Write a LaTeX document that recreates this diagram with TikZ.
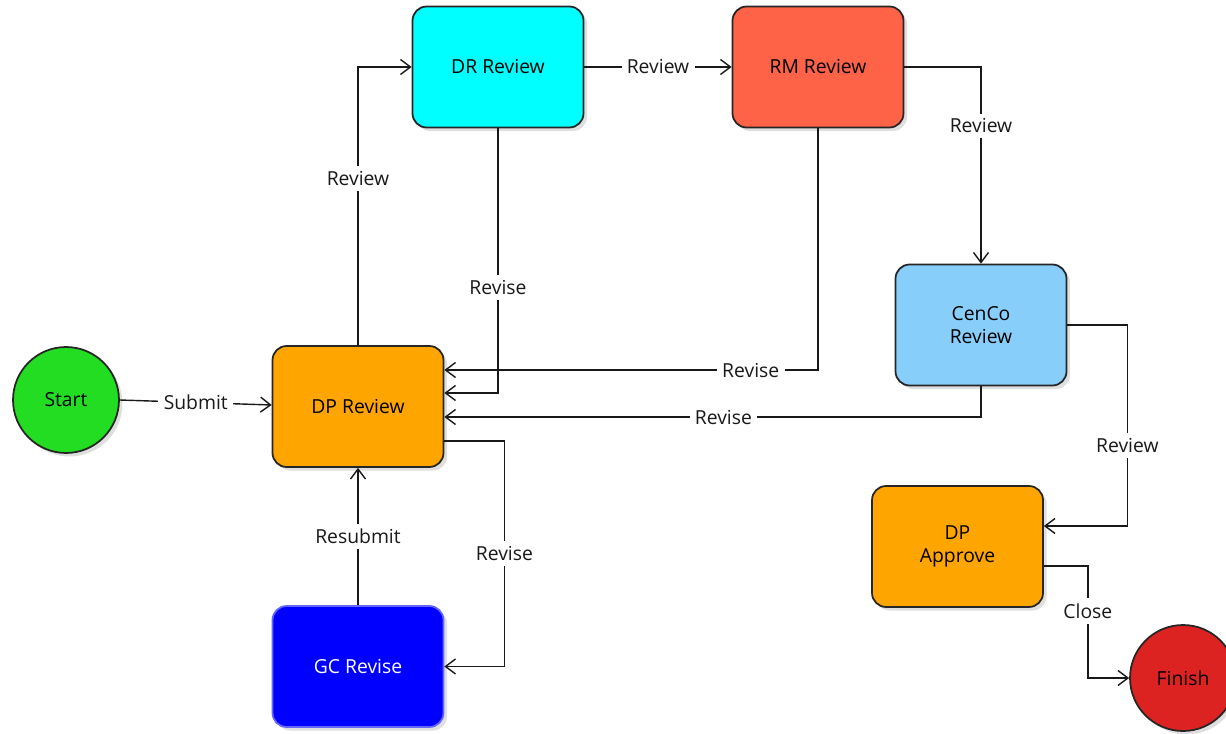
\documentclass[tikz,border=0pt]{standalone}
\usepackage{fontspec}
\setmainfont{Open Sans}
\usepackage{xcolor}
\usetikzlibrary{arrows.meta,calc,shadows}

\definecolor{startgreen}{HTML}{22DD22}
\definecolor{dporange}{HTML}{FFA500}
\definecolor{drcyan}{HTML}{00FFFF}
\definecolor{rmtomato}{HTML}{FF6347}
\definecolor{cencoblue}{HTML}{87CEFA}
\definecolor{gcblue}{HTML}{0000FF}
\definecolor{finishred}{HTML}{DD2222}

\begin{document}
\begin{tikzpicture}[x=0.02cm, y=-0.02cm,
        box/.style={draw=black!85, line width=1pt, rounded corners=8pt, minimum width=3.42cm, minimum height=2.42cm, align=center, font=\fontsize{11}{13}\selectfont, drop shadow={opacity=0.25, shadow xshift=2pt, shadow yshift=-2pt}},
        circ/.style={circle, draw=black!85, line width=1pt, minimum size=2.12cm, font=\fontsize{11}{13}\selectfont, drop shadow={opacity=0.25, shadow xshift=2pt, shadow yshift=-2pt}},
        arr/.style={-{Straight Barb[length=2mm, width=3mm]}, line width=0.8pt, black!90},
        lbl/.style={fill=white, inner sep=3pt, font=\fontsize{11}{13}\selectfont}]
        \useasboundingbox (0,0) rectangle (1226,733);

        % nodes
        \node[circ, fill=startgreen] (start) at (66,400) {Start};
        \node[box, fill=dporange] (dp) at (358,406.5) {DP Review};
        \node[box, fill=drcyan] (dr) at (498,67) {DR Review};
        \node[box, fill=rmtomato] (rm) at (818,67) {RM Review};
        \node[box, fill=cencoblue] (cc) at (981,325) {CenCo\\Review};
        \node[box, fill=dporange] (ap) at (957.5,546.5) {DP\\Approve};
        \node[box, fill=gcblue, draw=gcblue!60, text=white] (gc) at (358,666.5) {GC Revise};
        \node[circ, fill=finishred] (fin) at (1183,678) {Finish};

        % forward flow
        \draw[arr] (start.east) -- node[lbl] {Submit} ($(dp.west)+(0,-1.5)$);
        \draw[arr] (dp.north) |- node[lbl, pos=0.3] {Review} (dr.west);
        \draw[arr] (dr.east) -- node[lbl] {Review} (rm.west);
        \draw[arr] (rm.east) -| node[lbl, pos=0.65] {Review} (cc.north);
        \draw[arr] (cc.east) -- ++(60,0) |- node[lbl, pos=0.3] {Review} ($(ap.east)+(0,-20.5)$);
        \draw[arr] ($(ap.east)+(0,19.5)$) -- ++(44,0) |- node[lbl, pos=0.2] {Close} (fin.west);

        % revisions
        \draw[arr] (dr.south) |- node[lbl, pos=0.3] {Revise} ($(dp.east)+(0,-13.5)$);
        \draw[arr] (rm.south) |- node[lbl, pos=0.59] {Revise} ($(dp.east)+(0,-36.5)$);
        \draw[arr] (cc.south) |- node[lbl, pos=0.74] {Revise} ($(dp.east)+(0,10.5)$);
        \draw[arr] ($(dp.east)+(0,34.5)$) -- ++(60,0) |- node[lbl, pos=0.25] {Revise} (gc.east);
        \draw[arr] (gc.north) -- node[lbl] {Resubmit} (dp.south);
    \end{tikzpicture}
\end{document}
